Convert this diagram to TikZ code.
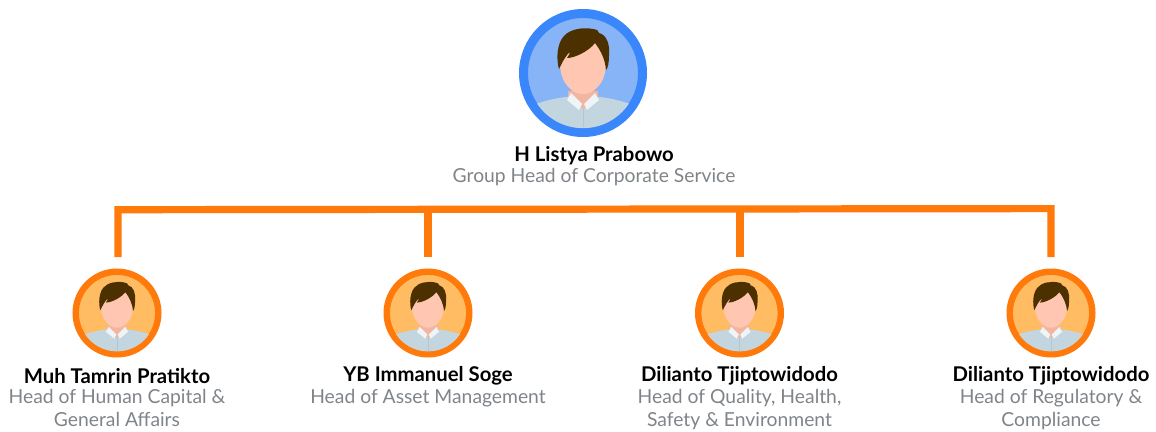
\documentclass[tikz,border=0pt]{standalone}
\usepackage{fontspec}
\setmainfont{Lato}
\definecolor{orangeline}{HTML}{FF7A0A}
\definecolor{blueline}{HTML}{3A86FB}
\definecolor{bluefill}{HTML}{86B4F6}
\definecolor{orangefill}{HTML}{FFBC63}
\definecolor{shirt}{HTML}{C3D5DF}
\definecolor{collar}{HTML}{EEF4F7}
\definecolor{neck}{HTML}{F2B6A0}
\definecolor{face}{HTML}{FFC7B1}
\definecolor{hair}{HTML}{4D3000}
\definecolor{role}{HTML}{7F8489}
\tikzset{
  x=1pt,y=-1pt,
  busline/.style={draw=orangeline,line width=7.2pt},
  namelabel/.style={font=\fontsize{20.3}{22}\selectfont\bfseries,text=black,inner sep=0pt,align=center},
  rolelabel/.style={font=\fontsize{19.3}{23}\selectfont,text=role,inner sep=0pt,align=center,anchor=north},
  bigring/.style={circle,draw=blueline,fill=bluefill,line width=9pt,minimum size=119pt,inner sep=0pt},
  smallring/.style={circle,draw=orangeline,fill=orangefill,line width=6.4pt,minimum size=82.6pt,inner sep=0pt},
  pics/person/.style={code={
    \begin{scope}
      \clip (0,0) circle[radius=55.2];
      \fill[shirt] (-47,31) .. controls (-30,25) and (-15,23) .. (0,23)
        .. controls (15,23) and (30,25) .. (47,31) -- (60,60) -- (-60,60) -- cycle;
    \end{scope}
    \fill[neck] (-15,18) -- (15,18) -- (15,26) -- (0,36) -- (-15,26) -- cycle;
    \draw[shirt!93!black,line width=0.3pt] (0,36) -- (0,54);
    \fill[face] (-23,-10) .. controls (-23,-28) and (-12,-34) .. (0,-34)
      .. controls (14,-34) and (23,-26) .. (23,-10)
      .. controls (23,6) and (16,14) .. (10,18)
      .. controls (5,22) and (-5,22) .. (-10,18)
      .. controls (-16,14) and (-23,6) .. (-23,-10) -- cycle;
    \fill[collar] (-12,20) -- (-16,27) -- (-4,37) -- (-1,31) -- cycle;
    \fill[collar] (12,20) -- (16,27) -- (4,37) -- (1,31) -- cycle;
    \fill[hair] (-24,-4) .. controls (-27,-14) and (-26,-30) .. (-19,-37)
      .. controls (-13,-44) and (0,-46) .. (10,-44)
      .. controls (14,-43.5) and (16,-42) .. (16,-40)
      .. controls (24,-38) and (27,-28) .. (26,-18)
      .. controls (26,-10) and (25,-5) .. (23,-3)
      .. controls (22,-14) and (18,-22) .. (12,-30)
      .. controls (6,-22) and (-8,-15) .. (-16,-15)
      .. controls (-14,-18) and (-13,-20) .. (-13,-21)
      .. controls (-17,-18) and (-20,-12) .. (-24,-4) -- cycle;
  }}
}
\begin{document}
\begin{tikzpicture}
\useasboundingbox (0,0) rectangle (1156,431);
% avatars
\node[bigring] (chief) at (583,73) {};
\pic at (chief.center) {person};
\node[smallring] (a1) at (117,313) {};
\node[smallring] (a2) at (428,313) {};
\node[smallring] (a3) at (739.5,313) {};
\node[smallring] (a4) at (1051,313) {};
\foreach \n in {a1,a2,a3,a4}{\pic[scale=0.695] at (\n.center) {person};}
% connectors
\coordinate (busA) at (118,209.7);
\coordinate (busB) at (428,209.3);
\coordinate (busC) at (740,209);
\coordinate (busD) at (1051,208.6);
\coordinate (endA) at (118,257);
\coordinate (endB) at (428,257);
\coordinate (endC) at (740,257);
\coordinate (endD) at (1051,257);
\draw[busline,line join=miter] (endA) -- (busA) -- (busD) -- (endD);
\draw[busline] (busB) -- (endB);
\draw[busline] (busC) -- (endC);
% labels
\node[namelabel] (n0) at (594,155.5) {H Listya Prabowo};
\node[rolelabel] (r0) at (594,168.5) {Group Head of Corporate Service};
\node[namelabel] (n1) at (117,376) {Muh Tamrin Pratikto};
\node[rolelabel] (r1) at (117,389) {Head of Human Capital \&\\General Affairs};
\node[namelabel] (n2) at (428,376) {YB Immanuel Soge};
\node[rolelabel] (r2) at (428,389) {Head of Asset Management};
\node[namelabel] (n3) at (739.5,376) {Dilianto Tjiptowidodo};
\node[rolelabel] (r3) at (739.5,389) {Head of Quality, Health,\\Safety \& Environment};
\node[namelabel] (n4) at (1051,376) {Dilianto Tjiptowidodo};
\node[rolelabel] (r4) at (1051,389) {Head of Regulatory \&\\Compliance};
\end{tikzpicture}
\end{document}
